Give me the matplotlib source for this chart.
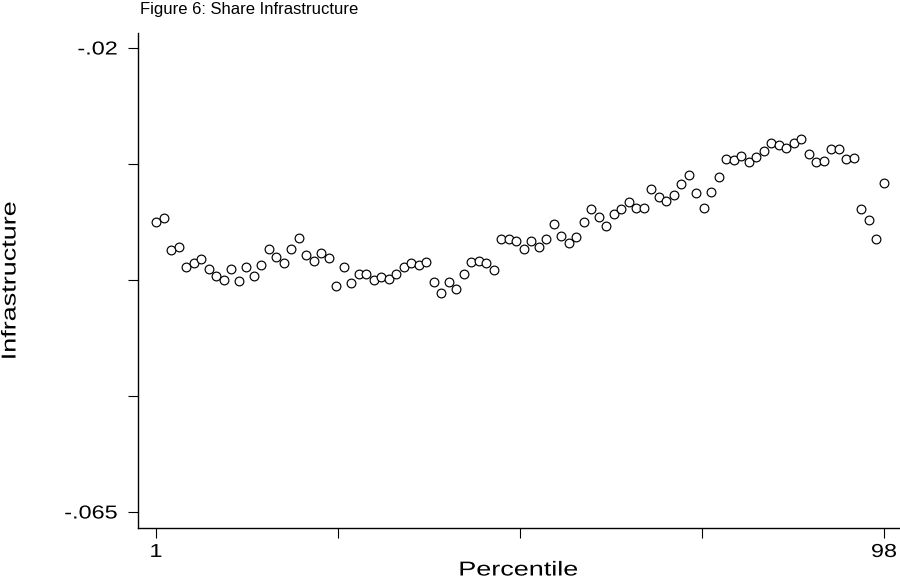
import matplotlib
matplotlib.use("Agg")
import matplotlib.pyplot as plt
from matplotlib.patheffects import AbstractPathEffect
from matplotlib.transforms import Affine2D

percentile = list(range(1, 99))
infrastructure = [
    -0.03685, -0.03646, -0.03959, -0.03930, -0.04121, -0.04082, -0.04046, -0.04146,
    -0.04214, -0.04247, -0.04146, -0.04257, -0.04124, -0.04214, -0.04102, -0.03946,
    -0.04024, -0.04082, -0.03952, -0.03843, -0.04010, -0.04069, -0.03985, -0.04040,
    -0.04311, -0.04127, -0.04279, -0.04195, -0.04189, -0.04250, -0.04218, -0.04237,
    -0.04189, -0.04127, -0.04085, -0.04104, -0.04075, -0.04269, -0.04376, -0.04269,
    -0.04334, -0.04189, -0.04072, -0.04066, -0.04082, -0.04156, -0.03852, -0.03852,
    -0.03875, -0.03952, -0.03869, -0.03930, -0.03855, -0.03707, -0.03820, -0.03894,
    -0.03830, -0.03690, -0.03558, -0.03639, -0.03723, -0.03613, -0.03561, -0.03495,
    -0.03552, -0.03555, -0.03370, -0.03445, -0.03481, -0.03426, -0.03319, -0.03232,
    -0.03409, -0.03555, -0.03400, -0.03248, -0.03076, -0.03086, -0.03050, -0.03101,
    -0.03054, -0.02996, -0.02918, -0.02941, -0.02973, -0.02924, -0.02885, -0.03025,
    -0.03103, -0.03096, -0.02980, -0.02980, -0.03074, -0.03067, -0.03564, -0.03668,
    -0.03855, -0.03306,
]
yticks = [-0.065, -0.05375, -0.0425, -0.03125, -0.02]
ytick_labels = ["-.065", "", "", "", "-.02"]
xticks = [1, 25.25, 49.5, 73.75, 98]
xtick_labels = ["1", "", "", "", "98"]


class Widen(AbstractPathEffect):
    """Stretch glyphs along the text direction."""

    def __init__(self, sx, anchor=0.5):
        super().__init__()
        self.sx = sx
        self.anchor = anchor

    def draw_path(self, renderer, gc, tpath, affine, rgbFace=None):
        ext = tpath.get_extents()
        x0 = ext.x0 + self.anchor * ext.width
        local = Affine2D().translate(-x0, 0).scale(self.sx, 1).translate(x0, 0)
        renderer.draw_path(gc, tpath, local + affine, rgbFace)


SX = 1.25
plt.rcParams["font.family"] = ["Liberation Sans", "DejaVu Sans"]

fig = plt.figure(figsize=(9, 5.79), dpi=100)
ax = fig.add_axes([138 / 900, 51 / 579, 761 / 900, 495 / 579])

ax.plot(percentile, infrastructure, linestyle="none", marker="o", ms=6.3,
        mfc="white", mec="black", mew=0.85)

ax.set_xlim(1 - 18 / 7.505, 98 + 15 / 7.505)
ax.set_ylim(-0.065 - 16 / 10311.0, -0.02 + 15 / 10311.0)

ax.set_yticks(yticks)
ax.set_yticklabels(ytick_labels)
ax.set_xticks(xticks)
ax.set_xticklabels(xtick_labels)
ax.tick_params(direction="out", length=7.5, width=0.8, labelsize=13.5, color="black")
ax.tick_params(axis="y", pad=7)
ax.tick_params(axis="x", pad=4)

for side in ("top", "right"):
    ax.spines[side].set_visible(False)
for side in ("left", "bottom"):
    ax.spines[side].set_linewidth(1.0)

for lab in ax.get_yticklabels():
    lab.set_path_effects([Widen(SX, 1.0)])
for lab in ax.get_xticklabels():
    lab.set_path_effects([Widen(SX, 0.5)])

ax.set_xlabel("Percentile", fontsize=14.5, path_effects=[Widen(1.34, 0.5)])
ax.set_ylabel("Infrastructure", fontsize=14.5, path_effects=[Widen(1.34, 0.5)])
ax.xaxis.set_label_coords(0.5, -(570 - 528) / 495)
ax.yaxis.set_label_coords(-(138 - 10) / 761, 0.5)
ax.xaxis.label.set_va("center")
ax.yaxis.label.set_va("center")

fig.text(140 / 900, 1 - 2 / 579, "Figure 6: Share Infrastructure", fontsize=12,
         ha="left", va="top")

fig.savefig("out.png", dpi=100)
